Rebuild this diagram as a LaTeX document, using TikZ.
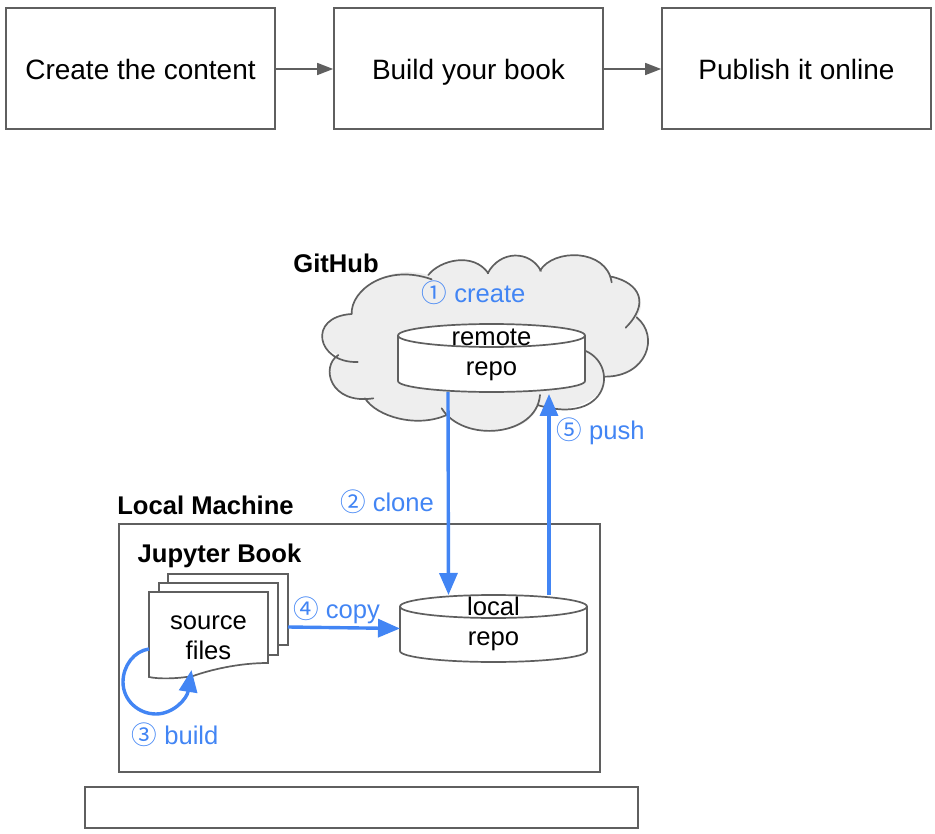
\documentclass[tikz,border=0pt]{standalone}
\usepackage{fontspec}
\setmainfont{Liberation Sans}
\newfontfamily\cjkdigits{Noto Sans CJK SC}
\usetikzlibrary{arrows.meta}
\definecolor{edgegray}{HTML}{5F5F5F}
\definecolor{blueink}{HTML}{4285F4}
\definecolor{cloudfill}{HTML}{EEEEEE}
\newcommand{\cylshape}[1]{%
  \draw[shapeline,fill=white] ([yshift=-11.5pt]#1.north west)
    -- ([yshift=11pt]#1.south west)
    arc[start angle=180,end angle=360,x radius=93.5pt,y radius=11pt]
    -- ([yshift=-11.5pt]#1.north east)
    arc[start angle=0,end angle=180,x radius=93.5pt,y radius=11.5pt]
    arc[start angle=180,end angle=360,x radius=93.5pt,y radius=11.5pt];}
\tikzset{
  shapeline/.style={draw=edgegray,line width=1.7pt},
  stepbox/.style={shapeline,fill=white,minimum width=269pt,minimum height=121pt,inner sep=0pt,text height=22pt,text depth=0pt,font=\fontsize{28}{30}\selectfont},
  flowarrow/.style={draw=edgegray,line width=1.6pt,-{Triangle[length=16pt,width=12pt,fill=edgegray]}},
  bluearrow/.style={draw=blueink,line width=3.4pt,-{Triangle[length=22pt,width=18pt,fill=blueink]}},
  plain/.style={inner sep=0pt,font=\fontsize{25.6}{30}\selectfont,align=center,text=black},
  boldlabel/.style={plain,font=\fontsize{25.6}{30}\selectfont\bfseries},
  bluelabel/.style={plain,text=blueink},
  ghost/.style={inner sep=0pt,outer sep=0pt,minimum width=0pt,minimum height=0pt},
  page/.style={shapeline,fill=white,inner sep=0pt,outer sep=0pt},
}
\begin{document}
\begin{tikzpicture}[x=1pt,y=-1pt]
\useasboundingbox (0,0) rectangle (935,834);
% top row
\node[stepbox] (create) at (140.5,68.5) {Create the content};
\node[stepbox] (build) at (468.5,68.5) {Build your book};
\node[stepbox] (publish) at (796.5,68.5) {Publish it online};
\draw[flowarrow] ([yshift=-0.5pt]create.east) -- ([yshift=-0.5pt]build.west);
\draw[flowarrow] ([yshift=-0.5pt]build.east) -- ([yshift=-0.5pt]publish.west);
% cloud
\begin{scope}[shift={(310,240)},scale=0.33333]
\fill[cloudfill] (125,215) .. controls (130,150) and (230,70) .. (355,105)
  .. controls (390,60) and (480,40) .. (535,98)
  .. controls (570,35) and (660,30) .. (695,90)
  .. controls (730,30) and (880,30) .. (905,110)
  .. controls (990,130) and (1010,190) .. (980,232)
  .. controls (1050,290) and (1010,410) .. (885,410)
  .. controls (890,480) and (770,530) .. (685,495)
  .. controls (660,590) and (470,600) .. (410,525)
  .. controls (320,565) and (200,530) .. (165,475)
  .. controls (60,480) and (30,380) .. (85,345)
  .. controls (10,320) and (30,225) .. (125,222) -- cycle;
\draw[shapeline,line cap=round]
  (125,222) .. controls (122,150) and (230,70) .. (365,118)
  (355,105) .. controls (390,60) and (490,35) .. (535,100)
  (533,100) .. controls (570,30) and (660,30) .. (693,93)
  (690,92) .. controls (730,25) and (890,25) .. (905,127)
  (905,110) .. controls (990,130) and (1020,190) .. (947,263)
  (980,232) .. controls (1050,290) and (1010,410) .. (885,410)
  (820,330) .. controls (930,370) and (900,560) .. (682,495)
  (690,465) .. controls (680,590) and (460,610) .. (395,505)
  (410,525) .. controls (320,565) and (200,530) .. (165,475)
  (190,475) .. controls (60,495) and (30,380) .. (85,345)
  (143,366) .. controls (20,370) and (-10,230) .. (125,222);
\end{scope}
\node[boldlabel] (githublabel) at (336,263.5) {GitHub};
\node[bluelabel] (createlabel) at (473.5,293) {{\cjkdigits ①} create};
% remote repo
\node[ghost,minimum width=187pt,minimum height=68pt] (remote) at (491.5,358) {};
\cylshape{remote}
\node[plain] (remotetext) at (491.5,354.5) {remote\\repo};
% local machine
\node[shapeline,minimum width=481pt,minimum height=248pt,inner sep=0pt] (machine) at (359.5,648) {};
\node[shapeline,minimum width=553pt,minimum height=41pt,inner sep=0pt] (base) at (361.5,807.5) {};
\node[boldlabel] (machinelabel) at (205.5,505.5) {Local Machine};
\node[boldlabel] (jupyterlabel) at (219.5,555.5) {Jupyter Book};
% local repo
\node[ghost,minimum width=187pt,minimum height=67pt] (local) at (493.5,628.5) {};
\cylshape{local}
\node[plain] (localtext) at (493.5,623.5) {local\\repo};
% source files
\node[page,minimum width=120pt,minimum height=71pt] (back) at (228,609.5) {};
\node[page,minimum width=119pt,minimum height=72pt] (middle) at (218.5,619) {};
\node[ghost,minimum width=119pt,minimum height=85pt] (source) at (208.5,634.5) {};
\draw[shapeline,fill=white] (source.north west) -- (source.north east)
  -- ([yshift=14pt]source.south east)
  .. controls ([xshift=-30pt,yshift=14pt]source.south east) and ([xshift=-58pt,yshift=7pt]source.south east) .. ([xshift=-75pt,yshift=1pt]source.south east)
  .. controls ([xshift=-92pt,yshift=-2pt]source.south east) and ([xshift=-110pt,yshift=-2pt]source.south east) .. (source.south west)
  -- cycle;
\node[plain] at ([yshift=-3pt]source.center) {source\\files};
% arrows
\draw[bluearrow] ([xshift=-43.5pt]remote.south) -- ([xshift=-45pt]local.north);
\draw[bluearrow] ([xshift=55.5pt]local.north) -- ([xshift=57.5pt,yshift=-2pt]remote.south);
\draw[bluearrow] ([yshift=-17.5pt]back.east) -- (local.west);
\draw[bluearrow]
  ([yshift=28pt]source.south west)
  .. controls ([xshift=-15pt,yshift=26pt]source.south west) and ([xshift=-26pt,yshift=11pt]source.south west)
  .. ([xshift=-26pt,yshift=-5pt]source.south west)
  .. controls ([xshift=-26pt,yshift=-23pt]source.south west) and ([xshift=-11pt,yshift=-37pt]source.south west)
  .. ([xshift=7pt,yshift=-37pt]source.south west)
  .. controls ([xshift=24pt,yshift=-37pt]source.south west) and ([xshift=38pt,yshift=-22pt]source.south west)
  .. ([xshift=-17pt,yshift=7pt]source.south);
% labels
\node[bluelabel] (pushlabel) at (600.5,431) {{\cjkdigits ⑤} push};
\node[bluelabel] (clonelabel) at (387,502) {{\cjkdigits ②} clone};
\node[bluelabel] (copylabel) at (336.5,610) {{\cjkdigits ④} copy};
\node[bluelabel] (buildlabel) at (175,735) {{\cjkdigits ③} build};
\end{tikzpicture}
\end{document}
